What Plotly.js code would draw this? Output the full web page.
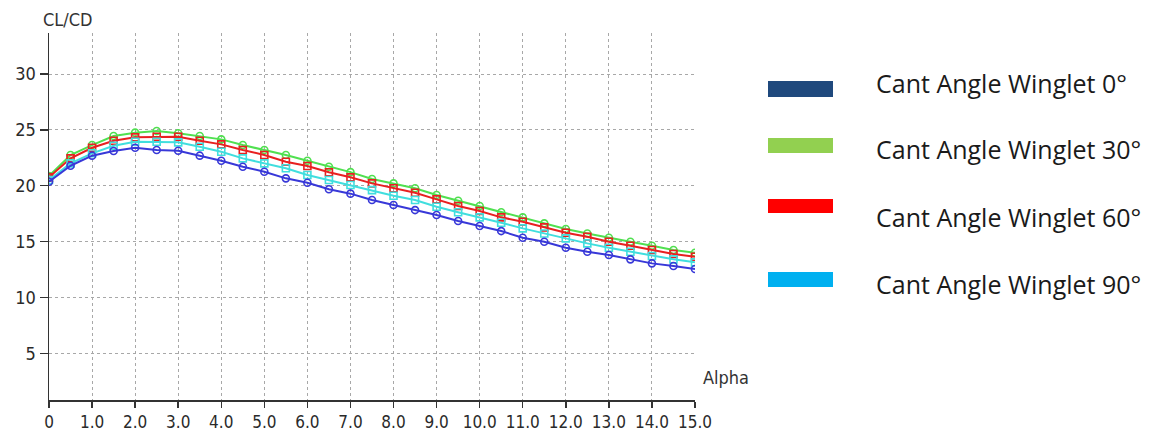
<!DOCTYPE html>
<html>
<head>
<meta charset="utf-8">
<script src="https://cdn.plot.ly/plotly-3.0.1.min.js"></script>
<style>html,body{margin:0;padding:0;background:#fff;}#chart{width:1153px;height:432px;}</style>
</head>
<body>
<div id="chart"></div>
<script>
const alpha = [0,0.5,1,1.5,2,2.5,3,3.5,4,4.5,5,5.5,6,6.5,7,7.5,8,8.5,9,9.5,10,10.5,11,11.5,12,12.5,13,13.5,14,14.5,15];
const cant0  = [20.36,21.79,22.69,23.11,23.40,23.20,23.13,22.69,22.24,21.70,21.25,20.66,20.27,19.68,19.29,18.72,18.27,17.82,17.38,16.84,16.39,15.94,15.34,14.99,14.45,14.09,13.80,13.41,13.05,12.81,12.54];
const cant30 = [20.87,22.75,23.64,24.45,24.75,24.90,24.69,24.45,24.15,23.64,23.20,22.75,22.24,21.70,21.22,20.60,20.21,19.77,19.17,18.66,18.18,17.62,17.17,16.63,16.12,15.73,15.34,14.99,14.63,14.24,14.00];
const cant60 = [20.75,22.45,23.40,24.03,24.33,24.39,24.39,24.03,23.70,23.20,22.75,22.15,21.76,21.20,20.75,20.21,19.77,19.37,18.78,18.18,17.74,17.17,16.78,16.27,15.79,15.43,14.99,14.63,14.24,13.89,13.64];
const cant90 = [20.51,22.00,22.90,23.58,23.94,23.94,23.88,23.49,23.04,22.45,22.00,21.56,20.96,20.51,20.06,19.61,19.10,18.72,18.12,17.62,17.17,16.69,16.18,15.73,15.29,14.84,14.45,14.09,13.71,13.41,13.14];

const seriesNames = ["Cant Angle Winglet 0°","Cant Angle Winglet 30°","Cant Angle Winglet 60°","Cant Angle Winglet 90°"];
const lineColors = ["#3838d8","#50e050","#e82020","#40dede"];
const legendColors = ["#1f497d","#92d050","#ff0000","#00b0f0"];
const markerSymbols = ["circle-open","circle-open","square-open","square-open"];
const xTickVals = [0,1,2,3,4,5,6,7,8,9,10,11,12,13,14,15];
const xTickText = ["0","1.0","2.0","3.0","4.0","5.0","6.0","7.0","8.0","9.0","10.0","11.0","12.0","13.0","14.0","15.0"];
const yTickVals = [5,10,15,20,25,30];

const data = [cant0, cant30, cant60, cant90];
const order = [1,2,3,0];
const traces = order.map(i => ({
  x: alpha, y: data[i], type: 'scatter', mode: 'lines+markers', name: seriesNames[i],
  line: {color: lineColors[i], width: 2},
  marker: {symbol: markerSymbols[i], size: 7, color: lineColors[i], line: {width: 1.6, color: lineColors[i]}},
  showlegend: false, hoverinfo: 'skip'
}));

const W = 646, H = 367;
const px = v => (v - 49) / W;
const py = v => (400 - v) / H;
const patchRows = [[81,97],[138,153],[199,213],[272,287]];
const textRows = [83,149,217,284];
const shapes = [];
const annotations = [];
seriesNames.forEach((n, i) => {
  shapes.push({type:'rect', xref:'paper', yref:'paper', x0: px(768), x1: px(833), y0: py(patchRows[i][1]), y1: py(patchRows[i][0]), fillcolor: legendColors[i], line:{width:0}});
  annotations.push({xref:'paper', yref:'paper', x: px(874), y: py(textRows[i]), xanchor:'left', yanchor:'middle', text: n, showarrow:false, font:{family:'Open Sans, sans-serif', size:25, color:'#1a1a1a'}});
});
const axFont = 'DejaVu Sans Condensed, DejaVu Sans, sans-serif';
annotations.push({xref:'paper', yref:'paper', x: px(68), y: py(19), xanchor:'center', yanchor:'middle', text:'CL/CD', showarrow:false, font:{family: axFont, size:18, color:'#333'}});
annotations.push({xref:'paper', yref:'paper', x: px(726), y: py(377), xanchor:'center', yanchor:'middle', text:'Alpha', showarrow:false, font:{family: axFont, size:18, color:'#333'}});

const layout = {
  width: 1153, height: 432,
  margin: {l: 49, r: 458, t: 33, b: 32, pad: 0},
  paper_bgcolor: '#fff', plot_bgcolor: '#fff',
  showlegend: false,
  xaxis: {
    range: [0, 15], tickvals: xTickVals, ticktext: xTickText,
    showline: true, linecolor: '#333', linewidth: 1.5,
    ticks: 'outside', ticklen: 6, tickwidth: 1.5, tickcolor: '#333',
    showgrid: true, gridcolor: '#a8a8a8', griddash: 'dot', gridwidth: 1,
    zeroline: false, tickfont: {family: axFont, size: 17, color: '#2a2a2a'}
  },
  yaxis: {
    range: [0.82, 33.67], tickvals: yTickVals,
    showline: true, linecolor: '#333', linewidth: 1.5,
    ticks: 'outside', ticklen: 8, tickwidth: 1.5, tickcolor: '#333',
    showgrid: true, gridcolor: '#a8a8a8', griddash: 'dot', gridwidth: 1,
    zeroline: false, tickfont: {family: axFont, size: 18, color: '#2a2a2a'}
  },
  shapes: shapes,
  annotations: annotations
};
Plotly.newPlot('chart', traces, layout, {staticPlot: true, displayModeBar: false});
</script>
</body>
</html>
